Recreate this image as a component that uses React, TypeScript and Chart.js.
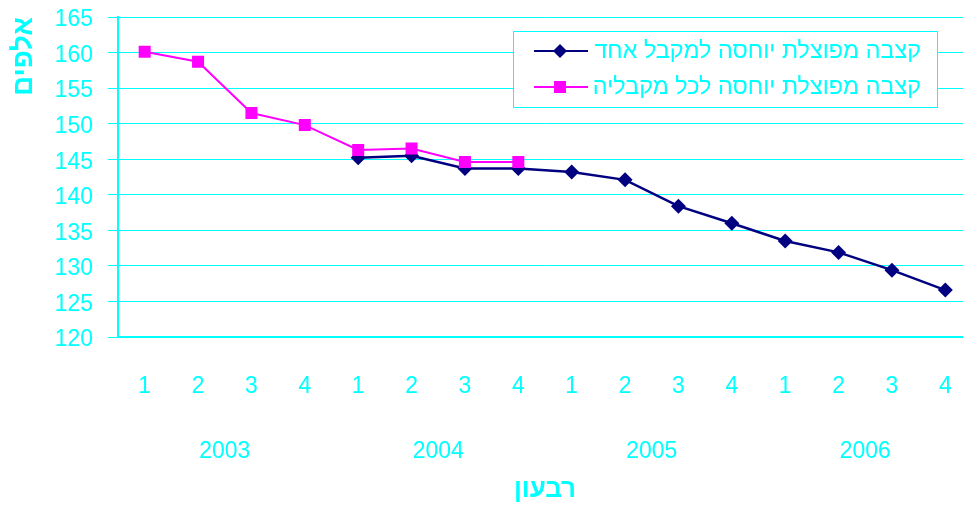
import React, { useEffect, useRef } from "react";
import { Chart, registerables } from "chart.js";

Chart.register(...registerables);

const quarters = ["1", "2", "3", "4", "1", "2", "3", "4", "1", "2", "3", "4", "1", "2", "3", "4"];
const years = ["2003", "2004", "2005", "2006"];
const singleRecipient = [null, null, null, null, 145.2, 145.5, 143.7, 143.7, 143.2, 142.1, 138.4, 136.0, 133.5, 131.9, 129.4, 126.6];
const allRecipients = [160.1, 158.7, 151.5, 149.8, 146.3, 146.5, 144.6, 144.6, null, null, null, null, null, null, null, null];
const seriesNames = ["קצבה מפוצלת יוחסה למקבל אחד", "קצבה מפוצלת יוחסה לכל מקבליה"];
const yTitle = "אלפים";
const xTitle = "רבעון";

const CYAN = "#00FFFF";
const NAVY = "#000080";
const MAGENTA = "#FF00FF";
const FONT = "'Liberation Sans', Arial, sans-serif";

const legendPlugin = {
  id: "boxLegend",
  afterDraw(chart: any) {
    const ctx = chart.ctx as CanvasRenderingContext2D;
    const { right, top } = chart.chartArea;
    const bx = right - 459;
    const by = top + 14;
    const bw = 424;
    const bh = 76;
    ctx.save();
    ctx.fillStyle = "#FFFFFF";
    ctx.fillRect(bx, by, bw, bh);
    ctx.strokeStyle = CYAN;
    ctx.lineWidth = 1;
    ctx.strokeRect(bx + 0.5, by + 0.5, bw, bh);
    const rows = [
      { y: by + 20, color: NAVY, style: "diamond", label: seriesNames[0] },
      { y: by + 56, color: MAGENTA, style: "square", label: seriesNames[1] },
    ];
    for (const r of rows) {
      ctx.strokeStyle = r.color;
      ctx.lineWidth = 2;
      ctx.beginPath();
      ctx.moveTo(bx + 21, r.y);
      ctx.lineTo(bx + 75, r.y);
      ctx.stroke();
      ctx.fillStyle = r.color;
      const cx = bx + 47;
      ctx.beginPath();
      if (r.style === "diamond") {
        ctx.moveTo(cx - 7, r.y);
        ctx.lineTo(cx, r.y - 7);
        ctx.lineTo(cx + 7, r.y);
        ctx.lineTo(cx, r.y + 7);
        ctx.closePath();
      } else {
        ctx.rect(cx - 6, r.y - 6, 12, 12);
      }
      ctx.fill();
      ctx.fillStyle = CYAN;
      ctx.font = `23.4px ${FONT}`;
      ctx.textAlign = "right";
      ctx.textBaseline = "middle";
      (ctx as any).direction = "rtl";
      ctx.fillText(r.label, bx + 408, r.y + 1);
    }
    ctx.restore();
  },
};

export default function App() {
  const ref = useRef<HTMLCanvasElement>(null);
  useEffect(() => {
    if (!ref.current) return;
    const chart = new Chart(ref.current, {
      type: "line",
      data: {
        labels: quarters,
        datasets: [
          {
            label: seriesNames[1],
            data: allRecipients,
            borderColor: MAGENTA,
            backgroundColor: MAGENTA,
            pointBackgroundColor: MAGENTA,
            pointBorderColor: MAGENTA,
            pointStyle: "rect",
            pointRadius: 8.5,
            pointBorderWidth: 0,
            borderWidth: 2,
            tension: 0,
            order: 0,
          },
          {
            label: seriesNames[0],
            data: singleRecipient,
            borderColor: NAVY,
            backgroundColor: NAVY,
            pointBackgroundColor: NAVY,
            pointBorderColor: NAVY,
            pointStyle: "rectRot",
            pointRadius: 7.5,
            pointBorderWidth: 0,
            borderWidth: 2.5,
            tension: 0,
            order: 1,
          },
        ],
      },
      options: {
        animation: false,
        responsive: false,
        maintainAspectRatio: false,
        layout: { padding: { left: 0, right: 18, top: 17, bottom: 0 } },
        plugins: {
          legend: { display: false },
          tooltip: { enabled: false },
        },
        scales: {
          y: {
            min: 120,
            max: 165,
            afterFit: (s: any) => {
              s.width = 118;
              s.paddingTop = 0;
              s.paddingBottom = 0;
            },
            ticks: {
              stepSize: 5,
              color: CYAN,
              padding: 15,
              labelOffset: 3,
              font: { family: FONT, size: 23 },
            },
            grid: { color: CYAN, lineWidth: 1, tickLength: 10, drawTicks: true },
            border: { display: true, color: CYAN, width: 2 },
            title: {
              display: true,
              text: yTitle,
              color: CYAN,
              align: "end",
              padding: { top: 8, bottom: 0 },
              font: { family: FONT, size: 27.5, weight: "bold" },
            },
          },
          x: {
            type: "category",
            position: "bottom",
            weight: 1,
            offset: true,
            afterFit: (s: any) => {
              s.height = 85;
            },
            grid: { display: false },
            border: { display: true, color: CYAN, width: 2 },
            ticks: {
              color: CYAN,
              padding: 28,
              maxRotation: 0,
              autoSkip: false,
              font: { family: FONT, size: 23 },
            },
          },
          x2: {
            type: "category",
            position: "bottom",
            weight: 2,
            labels: years,
            offset: true,
            afterFit: (s: any) => {
              s.height = 83;
            },
            grid: { display: false },
            border: { display: false },
            ticks: {
              color: CYAN,
              padding: 8,
              maxRotation: 0,
              autoSkip: false,
              font: { family: FONT, size: 23 },
            },
            title: {
              display: true,
              text: xTitle,
              color: CYAN,
              padding: { top: 0, bottom: 0 },
              font: { family: FONT, size: 26, weight: "bold" },
            },
          },
        },
      } as any,
      plugins: [legendPlugin],
    });
    return () => chart.destroy();
  }, []);
  return (
    <div
      style={{
        position: "fixed",
        left: 0,
        top: 0,
        width: 963,
        height: 505,
        overflow: "hidden",
        background: "#FFFFFF",
      }}
    >
      <canvas ref={ref} width={990} height={505} style={{ display: "block" }} />
    </div>
  );
}
